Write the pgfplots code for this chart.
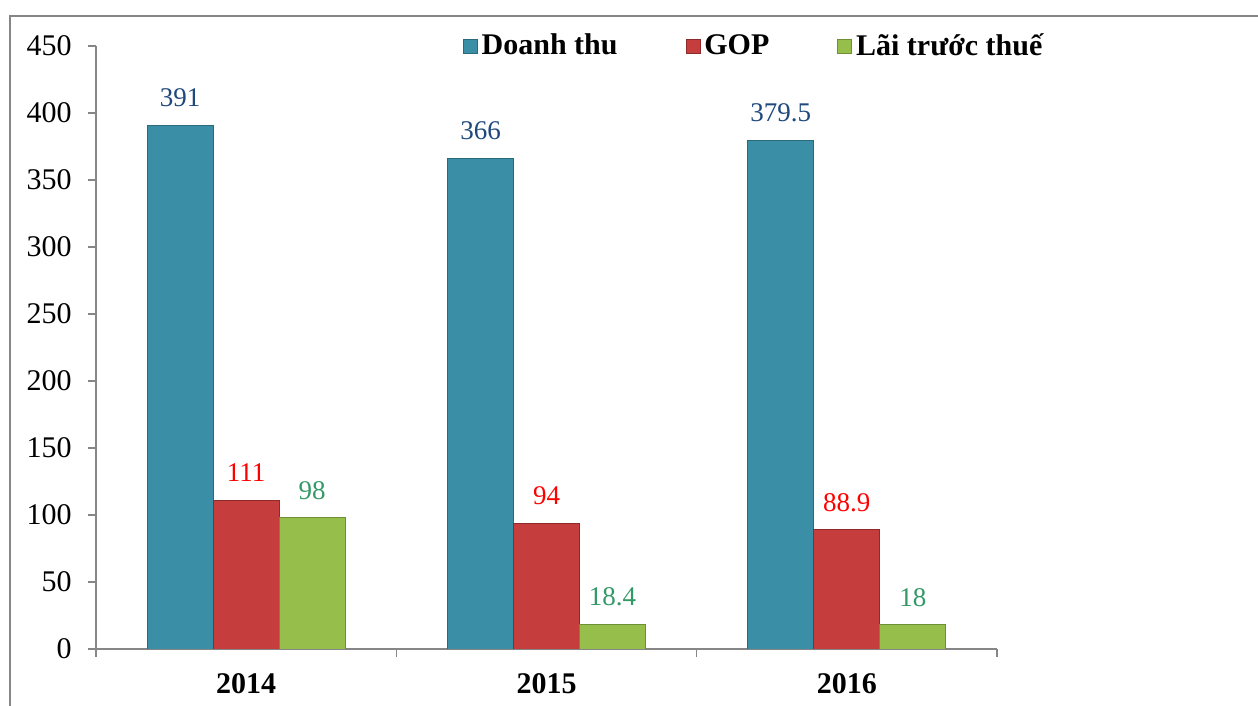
\documentclass[border=0pt]{standalone}
\usepackage{fontspec}
\setmainfont{Liberation Serif}
\usepackage{pgfplots}
\pgfplotsset{compat=1.18}
\definecolor{barblue}{HTML}{3A8FA7}
\definecolor{barblueD}{HTML}{2A6A7D}
\definecolor{barred}{HTML}{C53D3D}
\definecolor{barredD}{HTML}{8E2A2A}
\definecolor{bargreen}{HTML}{95BE4A}
\definecolor{bargreenD}{HTML}{6E8F33}
\definecolor{lblblue}{HTML}{1F497D}
\definecolor{lblred}{HTML}{FF0000}
\definecolor{lblgreen}{HTML}{339966}
\definecolor{axgray}{HTML}{868686}
\begin{document}
\begin{tikzpicture}
\begin{axis}[
  width=450.5pt, height=301.5pt, scale only axis,
  xmin=-0.5, xmax=2.5, ymin=0, ymax=450,
  ytick={0,50,...,450},
  xtick={-0.5,0.5,1.5,2.5},
  xticklabels={2014,2015,2016},
  x tick label as interval,
  axis x line*=bottom, axis y line*=left,
  axis line style={-, draw=axgray, line width=0.8pt},
  tick style={draw=axgray, line width=0.8pt},
  tick align=outside, major tick length=4pt,
  /pgf/number format/assume math mode=true,
  yticklabel style={font=\fontsize{15}{18}\selectfont, inner sep=0pt, xshift=-8pt},
  xticklabel style={font=\bfseries\fontsize{15}{18}\selectfont, inner sep=0pt, yshift=-8pt},
  ybar=0pt, bar width=33pt,
  nodes near coords,
  every node near coord/.append style={font=\fontsize{13.5}{16}\selectfont, inner sep=0pt, anchor=south, yshift=9pt},
  legend columns=3,
  legend style={draw=none, fill=none, at={(0.731,1.0)}, anchor=center,
    font=\bfseries\fontsize{15}{18}\selectfont,
    /tikz/every even column/.append style={column sep=32pt}},
  legend cell align=left,
  legend image code/.code={\draw[#1, line width=0.4pt] (0pt,-3.5pt) rectangle (7pt,3.5pt);},
]
\addplot[fill=barblue, draw=barblueD, every node near coord/.append style={text=lblblue}]
  coordinates {(0,391) (1,366) (2,379.5)};
\addplot[fill=barred, draw=barredD, every node near coord/.append style={text=lblred}]
  coordinates {(0,111) (1,94) (2,88.9)};
\addplot[fill=bargreen, draw=bargreenD, every node near coord/.append style={text=lblgreen}]
  coordinates {(0,98) (1,18.4) (2,18)};
\legend{Doanh thu, GOP, Lãi trước thuế}
\end{axis}
\draw[axgray, line width=0.6pt] (-43pt,-28.5pt) -- (-43pt,316.5pt) -- (581pt,316.5pt);
\pgfresetboundingbox
\useasboundingbox (-48pt,-28.5pt) rectangle (581pt,324.5pt);
\end{tikzpicture}
\end{document}
